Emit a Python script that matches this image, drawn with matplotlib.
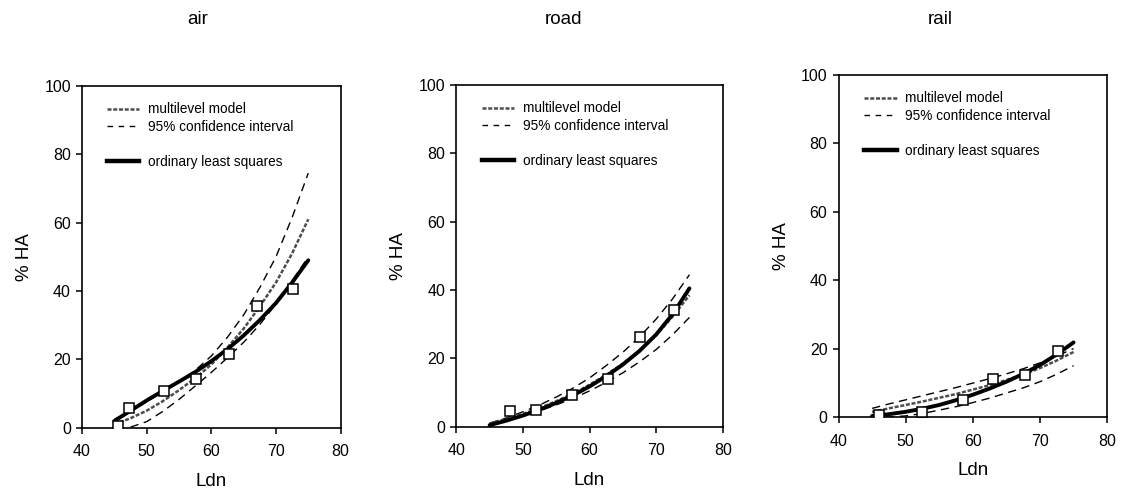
import matplotlib
matplotlib.use("Agg")
import matplotlib.pyplot as plt
from matplotlib.lines import Line2D

plt.rcParams['font.family'] = ['Liberation Sans', 'DejaVu Sans']

# ---- data ----
ldn = [45, 47.5, 50, 52.5, 55, 57.5, 60, 62.5, 65, 67.5, 70, 72.5, 75]

titles = ["air", "road", "rail"]

air_ols = [2, 5, 8, 10.8, 13.5, 16.3, 19.5, 23, 27, 31.5, 36.5, 42.5, 49]
air_ml = [1, 2.8, 5, 7.8, 11, 14.5, 18.5, 23.5, 29, 35.5, 42.5, 51, 61]
air_up = [2.5, 4.8, 7.6, 10.5, 13.5, 16.8, 21, 26.5, 33, 41, 50, 61.5, 74.5]
air_lo = [None, 0.2, 1.8, 4.8, 8.3, 12.2, 16.2, 20.5, 25, 30.2, 36.2, 43, 50]
air_pts_x = [45.5, 47.3, 52.7, 57.6, 62.7, 67.1, 72.6]
air_pts_y = [0.5, 5.9, 10.7, 14.4, 21.6, 35.7, 40.5]

road_ols = [0.5, 1.8, 3.3, 5, 7, 9.2, 11.8, 14.8, 18.2, 22.2, 27, 33, 40.5]
road_ml = [1, 2.3, 3.8, 5.5, 7.5, 9.7, 12.3, 15.2, 18.5, 22.3, 26.8, 32.3, 38.5]
road_up = [1, 2.6, 4.4, 6.4, 8.7, 11.3, 14.3, 17.9, 21.8, 26.3, 31.5, 37.5, 44.5]
road_lo = [0.8, 2, 3.3, 4.7, 6.4, 8.3, 10.5, 13, 15.8, 19, 22.6, 27, 32]
road_pts_x = [48, 52, 57.4, 62.8, 67.6, 72.7]
road_pts_y = [4.7, 5, 9.3, 14, 26.3, 34.3]

rail_ols = [0.3, 0.8, 1.5, 2.4, 3.5, 4.9, 6.5, 8.3, 10.3, 12.6, 15.2, 18.3, 21.8]
rail_ml = [1.5, 2.5, 3.5, 4.5, 5.6, 6.7, 8, 9.3, 10.8, 12.4, 14.3, 16.5, 19]
rail_up = [2.5, 3.8, 5, 6.2, 7.4, 8.6, 9.9, 11.2, 12.6, 14.1, 15.8, 17.8, 20]
rail_lo = [0, 0, 0.3, 1, 2, 3, 4.2, 5.5, 7, 8.5, 10.3, 12.5, 15]
rail_pts_x = [46, 52.5, 58.5, 63, 67.8, 72.7]
rail_pts_y = [0.5, 1.5, 5, 11.2, 12.2, 19.2]

xticks = [40, 50, 60, 70, 80]
yticks = [0, 20, 40, 60, 80, 100]
legend_labels = ["multilevel model", "95% confidence interval", "ordinary least squares"]

panels = [
    (air_ols, air_ml, air_up, air_lo, air_pts_x, air_pts_y),
    (road_ols, road_ml, road_up, road_lo, road_pts_x, road_pts_y),
    (rail_ols, rail_ml, rail_up, rail_lo, rail_pts_x, rail_pts_y),
]

# ---- layout ----
fig = plt.figure(figsize=(11.24, 4.94), dpi=100)
positions = [
    [0.073, 0.134, 0.230, 0.692],
    [0.406, 0.136, 0.237, 0.692],
    [0.746, 0.156, 0.239, 0.692],
]
title_x = [198 / 1124, 563 / 1124, 940 / 1124]

ml_style = dict(color='0.3', lw=1.8, linestyle=(0, (1.6, 0.7)))
ci_style = dict(color='black', lw=1.0, linestyle=(0, (6, 4)))
ols_style = dict(color='black', lw=2.8, solid_capstyle='round')


def clean(xs, ys):
    px, py = [], []
    for a, b in zip(xs, ys):
        if b is not None:
            px.append(a)
            py.append(b)
    return px, py


for i, (pos, data) in enumerate(zip(positions, panels)):
    ols, ml, up, lo, px, py = data
    ax = fig.add_axes(pos)
    ax.plot(*clean(ldn, up), zorder=2, **ci_style)
    ax.plot(*clean(ldn, lo), zorder=2, **ci_style)
    ax.plot(ldn, ml, zorder=3, **ml_style)
    ax.plot(ldn, ols, zorder=4, **ols_style)
    ax.plot(px, py, linestyle='none', marker='s', markersize=7.5,
            markerfacecolor='white', markeredgecolor='black',
            markeredgewidth=1.1, zorder=5)

    ax.set_xlim(40, 80)
    ax.set_ylim(0, 100)
    ax.set_xticks(xticks)
    ax.set_yticks(yticks)
    ax.tick_params(axis='x', direction='out', length=4, width=1.1,
                   labelsize=11.5, pad=8)
    ax.tick_params(axis='y', direction='out', length=4, width=1.1,
                   labelsize=11.5, pad=4)
    for sp in ax.spines.values():
        sp.set_linewidth(1.2)
        sp.set_color('black')
    ax.set_xlabel("Ldn", fontsize=13.5, labelpad=10)
    ax.set_ylabel("% HA", fontsize=13.5, labelpad=8)

    handles = [
        Line2D([], [], **ml_style),
        Line2D([], [], color='black', lw=1.0, linestyle=(0, (4, 4))),
        Line2D([], [], color='none'),
        Line2D([], [], color='black', lw=3.2),
    ]
    labels = [legend_labels[0], legend_labels[1], " ", legend_labels[2]]
    ax.legend(handles, labels, loc='upper left', bbox_to_anchor=(0.085, 0.96),
              frameon=False, fontsize=9.8, handlelength=2.4, handletextpad=0.6,
              labelspacing=0.25, borderaxespad=0.0, borderpad=0.2)

    fig.text(title_x[i], 1 - 19 / 494, titles[i], ha='center', va='center',
             fontsize=13.5)

fig.savefig("out.png", dpi=100)
